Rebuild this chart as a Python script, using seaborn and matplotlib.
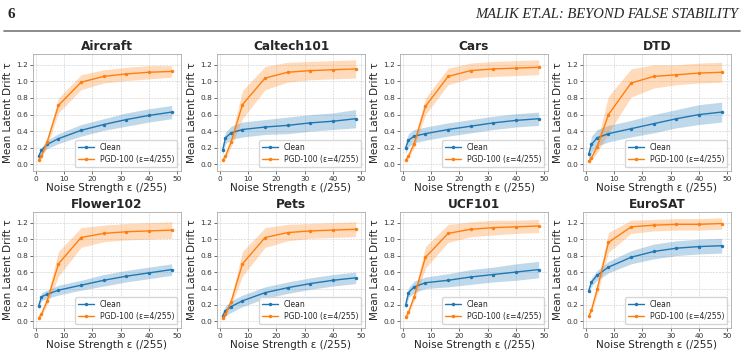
import numpy as np
import pandas as pd
import matplotlib
matplotlib.use('Agg')
import matplotlib.pyplot as plt
import seaborn as sns

##################################################################
##### data (mean and half-width of band)
##################################################################
eps = [1, 2, 4, 8, 16, 24, 32, 40, 48]
datasets = ['Aircraft', 'Caltech101', 'Cars', 'DTD',
            'Flower102', 'Pets', 'UCF101', 'EuroSAT']

clean_mean = {
    'Aircraft':   [0.10, 0.17, 0.24, 0.31, 0.41, 0.48, 0.54, 0.59, 0.63],
    'Caltech101': [0.17, 0.32, 0.38, 0.42, 0.45, 0.47, 0.50, 0.52, 0.55],
    'Cars':       [0.20, 0.29, 0.34, 0.37, 0.42, 0.46, 0.50, 0.53, 0.55],
    'DTD':        [0.12, 0.24, 0.32, 0.37, 0.43, 0.49, 0.55, 0.60, 0.63],
    'Flower102':  [0.19, 0.30, 0.33, 0.38, 0.44, 0.50, 0.55, 0.59, 0.63],
    'Pets':       [0.07, 0.13, 0.18, 0.25, 0.35, 0.41, 0.46, 0.50, 0.53],
    'UCF101':     [0.20, 0.35, 0.42, 0.47, 0.50, 0.54, 0.57, 0.60, 0.63],
    'EuroSAT':    [0.37, 0.48, 0.56, 0.66, 0.78, 0.85, 0.89, 0.91, 0.92],
}
clean_band = {
    'Aircraft':   [0.03, 0.04, 0.05, 0.06, 0.07, 0.07, 0.08, 0.08, 0.08],
    'Caltech101': [0.06, 0.07, 0.08, 0.09, 0.09, 0.10, 0.10, 0.10, 0.11],
    'Cars':       [0.07, 0.08, 0.08, 0.08, 0.08, 0.08, 0.08, 0.08, 0.08],
    'DTD':        [0.06, 0.10, 0.10, 0.10, 0.10, 0.11, 0.11, 0.12, 0.12],
    'Flower102':  [0.04, 0.05, 0.05, 0.06, 0.06, 0.07, 0.07, 0.07, 0.07],
    'Pets':       [0.04, 0.06, 0.07, 0.07, 0.07, 0.07, 0.07, 0.07, 0.07],
    'UCF101':     [0.05, 0.06, 0.07, 0.07, 0.08, 0.09, 0.09, 0.10, 0.10],
    'EuroSAT':    [0.03, 0.05, 0.06, 0.07, 0.08, 0.09, 0.09, 0.09, 0.09],
}
pgd_mean = {
    'Aircraft':   [0.05, 0.10, 0.27, 0.71, 0.99, 1.06, 1.09, 1.11, 1.12],
    'Caltech101': [0.05, 0.10, 0.27, 0.72, 1.04, 1.11, 1.13, 1.14, 1.15],
    'Cars':       [0.05, 0.10, 0.25, 0.70, 1.06, 1.13, 1.15, 1.16, 1.17],
    'DTD':        [0.04, 0.08, 0.21, 0.60, 0.98, 1.06, 1.08, 1.10, 1.11],
    'Flower102':  [0.04, 0.09, 0.25, 0.70, 1.02, 1.07, 1.09, 1.10, 1.11],
    'Pets':       [0.04, 0.09, 0.24, 0.70, 1.02, 1.08, 1.10, 1.11, 1.12],
    'UCF101':     [0.05, 0.11, 0.30, 0.78, 1.07, 1.12, 1.14, 1.15, 1.16],
    'EuroSAT':    [0.06, 0.14, 0.39, 0.96, 1.15, 1.17, 1.18, 1.18, 1.19],
}
pgd_band = {
    'Aircraft':   [0.02, 0.03, 0.05, 0.09, 0.09, 0.08, 0.08, 0.08, 0.07],
    'Caltech101': [0.02, 0.03, 0.06, 0.17, 0.14, 0.12, 0.11, 0.11, 0.11],
    'Cars':       [0.02, 0.03, 0.05, 0.10, 0.10, 0.09, 0.09, 0.09, 0.09],
    'DTD':        [0.02, 0.03, 0.07, 0.22, 0.17, 0.14, 0.12, 0.12, 0.12],
    'Flower102':  [0.02, 0.03, 0.05, 0.15, 0.12, 0.10, 0.10, 0.10, 0.10],
    'Pets':       [0.02, 0.03, 0.05, 0.15, 0.12, 0.10, 0.09, 0.09, 0.09],
    'UCF101':     [0.02, 0.03, 0.05, 0.13, 0.11, 0.09, 0.09, 0.08, 0.08],
    'EuroSAT':    [0.02, 0.03, 0.07, 0.12, 0.08, 0.07, 0.07, 0.07, 0.07],
}
series_labels = ['Clean', 'PGD-100 (ε=4/255)']
##################################################################

sns.set_style('ticks')
plt.rcParams['font.family'] = ['DejaVu Sans']

colors = ['#1f77b4', '#ff7f0e']
W, H = 744, 357
fig = plt.figure(figsize=[W / 100, H / 100], dpi=100)

# page header
fig.text(8 / W, 1 - 14 / H, '6', ha='left', va='center', fontsize=11,
         fontweight='bold', family='Liberation Serif')
fig.text(738 / W, 1 - 14 / H, 'MALIK ET.AL: BEYOND FALSE STABILITY', ha='right',
         va='center', fontsize=10.5, style='italic', family='Liberation Serif')
fig.add_artist(plt.Line2D([4 / W, 740 / W], [1 - 31 / H, 1 - 31 / H],
                          color='#777777', lw=1.2, transform=fig.transFigure))

lefts = [33, 217, 400, 583]
rows = [(54, 171), (212, 328)]
fz = 7.5

for i, name in enumerate(datasets):
    r, c = divmod(i, 4)
    top, bot = rows[r]
    ax = fig.add_axes([lefts[c] / W, 1 - bot / H, 148 / W, (bot - top) / H])

    df = pd.DataFrame({'eps': eps * 2,
                       'drift': clean_mean[name] + pgd_mean[name],
                       'series': [series_labels[0]] * len(eps) + [series_labels[1]] * len(eps)})
    sns.lineplot(data=df, x='eps', y='drift', hue='series', palette=colors, ax=ax,
                 marker='o', markersize=2.5, markeredgewidth=0, linewidth=1.0)
    for k, (m, b) in enumerate([(clean_mean[name], clean_band[name]),
                                (pgd_mean[name], pgd_band[name])]):
        m, b = np.array(m), np.array(b)
        ax.fill_between(eps, m - b, m + b, color=colors[k], alpha=0.28, lw=0)

    ax.set_xlim(-1, 51.3)
    ax.set_ylim(-0.08, 1.33)
    ax.set_xticks([0, 10, 20, 30, 40, 50])
    ax.set_yticks([0.0, 0.2, 0.4, 0.6, 0.8, 1.0, 1.2])
    ax.tick_params(labelsize=5.3, length=2, width=0.5, pad=1.5, colors='#333333')
    ax.grid(True, linestyle='--', linewidth=0.4, color='#cccccc')
    for s in ax.spines.values():
        s.set_color('#aaaaaa')
        s.set_linewidth(0.6)
    ax.set_title(name, fontsize=8.7, fontweight='bold', pad=3)
    ax.set_xlabel('Noise Strength ε (/255)', fontsize=fz, labelpad=1)
    ax.set_ylabel('Mean Latent Drift τ', fontsize=fz, labelpad=2)
    ax.legend(loc='lower right', fontsize=5.5, frameon=True, handlelength=2.0,
              borderpad=0.4, labelspacing=0.4, title=None)

fig.savefig('out.png', dpi=100)
